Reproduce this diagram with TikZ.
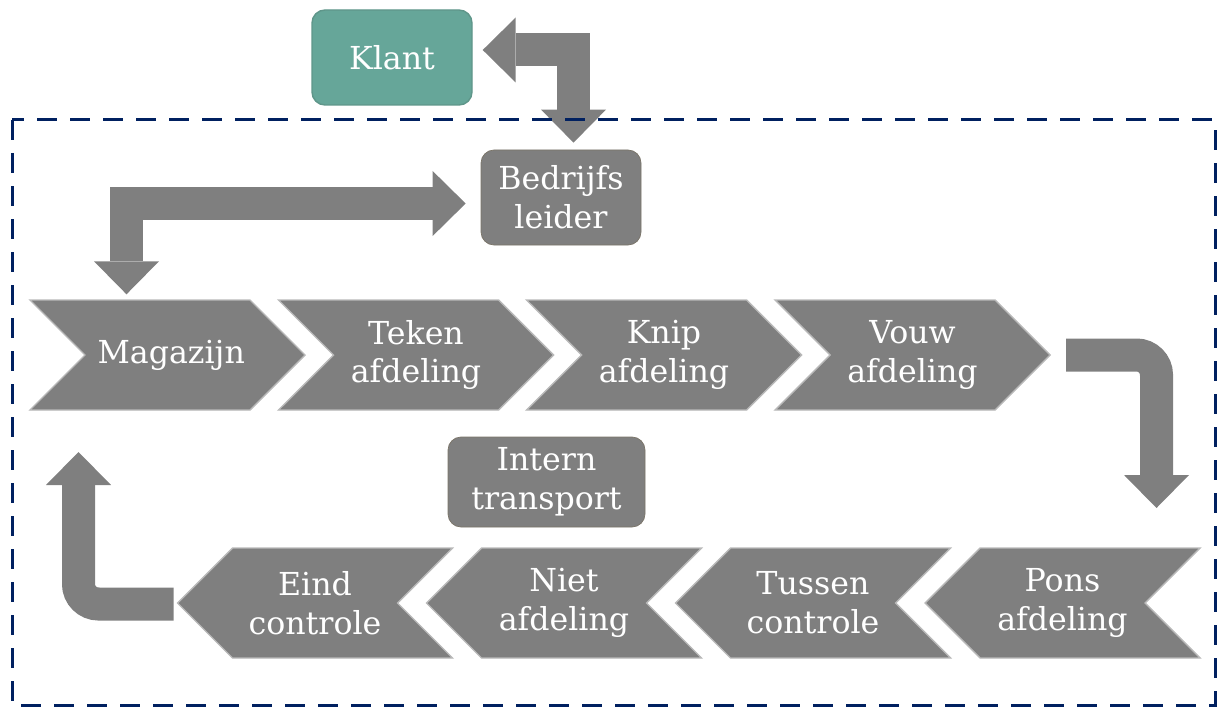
\documentclass[tikz,border=0pt]{standalone}
\usepackage{fontspec}
\setmainfont{DejaVu Serif}
\usetikzlibrary{arrows.meta, positioning, shapes.symbols}

\definecolor{boxgray}{RGB}{127,127,127}
\definecolor{edgegray}{RGB}{122,116,104}
\definecolor{klantgreen}{RGB}{102,166,153}
\definecolor{klantedge}{RGB}{95,150,138}
\definecolor{navy}{RGB}{0,32,96}

\begin{document}
\begin{tikzpicture}[
    x=0.2mm, y=-0.2mm,
    every node/.style={text=white, font=\fontsize{18}{22}\selectfont, align=center},
    box/.style={draw=edgegray, fill=boxgray, rounded corners=2.6mm, minimum width=32mm, minimum height=19mm},
    client/.style={box, fill=klantgreen, draw=klantedge, line width=0.8pt},
    stepright/.style={signal, signal to=east, signal from=west, signal pointer angle=90,
        fill=boxgray, draw=gray!55, line width=0.8pt, minimum width=55mm, minimum height=22mm, inner sep=0pt},
    stepleft/.style={signal, signal to=west, signal from=east, signal pointer angle=90,
        fill=boxgray, draw=gray!55, line width=0.8pt, minimum width=55mm, minimum height=22mm, inner sep=0pt},
    flow/.style={line width=6.6mm, draw=boxgray, -{Triangle[length=6.6mm, width=13mm, line width=0pt]}},
    dflow/.style={flow, {Triangle[length=6.6mm, width=13mm, line width=0pt]}-{Triangle[length=6.6mm, width=13mm, line width=0pt]}},
    frame/.style={draw=navy, line width=0.6mm, dash pattern=on 4mm off 2.6mm}]

\useasboundingbox (0,0) rectangle (1217,707);

\node[client] (klant) at (392,57.5) {Klant};
\node[box] (leider) at (561,197.5) {Bedrijfs\\leider};
\node[box, minimum width=39.4mm, minimum height=18mm] (intern) at (546.5,482) {Intern\\transport};

% bovenste rij
\node[stepright] (mag) at (167.5,355) {\hspace{1.5mm}Magazijn};
\node[stepright] (teken) at (416,355) {Teken\\afdeling};
\node[stepright] (knip) at (664,355) {Knip\\afdeling};
\node[stepright] (vouw) at (912.5,355) {Vouw\\afdeling};

% onderste rij
\node[stepleft] (eind) at (315,603) {Eind\\controle};
\node[stepleft] (niet) at (564,603) {Niet\\afdeling};
\node[stepleft] (tussen) at (813,603) {Tussen\\controle};
\node[stepleft] (pons) at (1062.5,603) {Pons\\afdeling};

\coordinate (rturn) at (1156.5,508);
\coordinate (lturn) at (78.5,452);

\draw[dflow] ([shift={(10,-7.5)}]klant.east) -| ([shift={(12.5,-7)}]leider.north);
\draw[dflow] ([shift={(-15,6)}]leider.west) -| ([shift={(-41,-5)}]mag.north);
\draw[flow, rounded corners=4mm] ([xshift=3mm]vouw.east) -| (rturn);
\draw[flow, rounded corners=4mm] ([shift={(-3,1)}]eind.west) -| (lturn);

\draw[frame] (12,120) rectangle (1215,705);

\end{tikzpicture}
\end{document}
